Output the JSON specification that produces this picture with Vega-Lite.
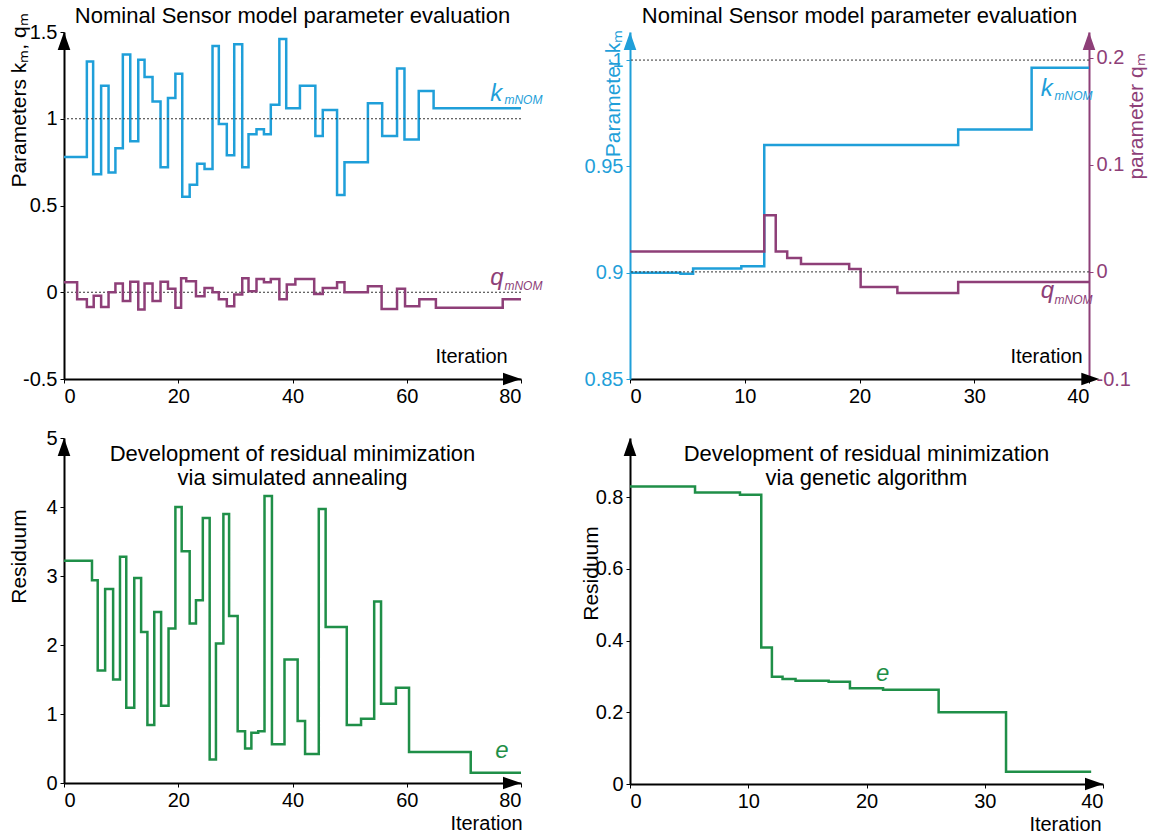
{
  "$schema": "https://vega.github.io/schema/vega-lite/v6.json",
  "padding": {"left": 7, "top": 4, "right": 5, "bottom": 5},
  "config": {
    "font": "Liberation Sans",
    "view": {"stroke": null},
    "axis": {"grid": false, "domainColor": "black", "domainWidth": 2, "tickColor": "black", "tickSize": 4, "labelFontSize": 20, "labelColor": "black", "labelFont": "Liberation Sans", "titleFont": "Liberation Sans", "titleFontSize": 21, "titleFontWeight": "normal", "titleColor": "black", "labelPadding": 3},
    "title": {"fontSize": 22, "fontWeight": "normal", "font": "Liberation Sans", "color": "black", "frame": "group"}
  },
  "datasets": {
    "kSA": [{"iter":0,"v":0.78},{"iter":4,"v":1.33},{"iter":5.1,"v":0.68},{"iter":6.5,"v":1.19},{"iter":7.8,"v":0.69},{"iter":9,"v":0.83},{"iter":10.3,"v":1.37},{"iter":11.6,"v":0.87},{"iter":13,"v":1.34},{"iter":14.1,"v":1.24},{"iter":15.5,"v":1.10},{"iter":16.9,"v":0.72},{"iter":18.2,"v":1.12},{"iter":19.5,"v":1.26},{"iter":20.7,"v":0.55},{"iter":22,"v":0.62},{"iter":23.3,"v":0.74},{"iter":24.6,"v":0.71},{"iter":26,"v":1.42},{"iter":27.1,"v":0.97},{"iter":28.5,"v":0.79},{"iter":29.8,"v":1.43},{"iter":31.2,"v":0.72},{"iter":32.3,"v":0.91},{"iter":33.7,"v":0.94},{"iter":35,"v":0.91},{"iter":36.2,"v":1.08},{"iter":37.7,"v":1.46},{"iter":38.9,"v":1.06},{"iter":41.3,"v":1.19},{"iter":44,"v":0.90},{"iter":45.3,"v":1.05},{"iter":47.8,"v":0.56},{"iter":49.1,"v":0.75},{"iter":53.2,"v":1.09},{"iter":55.7,"v":0.90},{"iter":58.3,"v":1.29},{"iter":59.6,"v":0.88},{"iter":62.1,"v":1.16},{"iter":64.7,"v":1.06},{"iter":80,"v":1.06}],
    "qSA": [{"iter":0,"v":0.057},{"iter":2.3,"v":-0.04},{"iter":4,"v":-0.085},{"iter":5.2,"v":-0.02},{"iter":6.5,"v":-0.085},{"iter":7.8,"v":0.0},{"iter":9,"v":0.05},{"iter":10.3,"v":-0.05},{"iter":11.6,"v":0.06},{"iter":13,"v":-0.1},{"iter":14.1,"v":0.05},{"iter":15.5,"v":-0.05},{"iter":16.9,"v":0.06},{"iter":18.2,"v":0.02},{"iter":19.5,"v":-0.09},{"iter":20.5,"v":0.08},{"iter":21.4,"v":0.063},{"iter":23.1,"v":-0.023},{"iter":24.6,"v":0.025},{"iter":26,"v":0.0},{"iter":27.1,"v":-0.04},{"iter":28.5,"v":-0.08},{"iter":29.8,"v":-0.013},{"iter":31.2,"v":0.08},{"iter":32.3,"v":0.006},{"iter":33.7,"v":0.077},{"iter":35,"v":0.057},{"iter":36.2,"v":0.077},{"iter":37.7,"v":-0.04},{"iter":39,"v":0.044},{"iter":40.5,"v":0.077},{"iter":43.8,"v":-0.01},{"iter":45.3,"v":0.025},{"iter":47.8,"v":0.057},{"iter":49.1,"v":0.0},{"iter":53.2,"v":0.034},{"iter":55.6,"v":-0.096},{"iter":58.3,"v":0.02},{"iter":59.7,"v":-0.08},{"iter":62.2,"v":-0.04},{"iter":65.1,"v":-0.09},{"iter":76.8,"v":-0.04},{"iter":80,"v":-0.04}],
    "kGA": [{"iter":0,"v":0.9},{"iter":4.4,"v":0.8995},{"iter":5.5,"v":0.902},{"iter":9.7,"v":0.903},{"iter":11.7,"v":0.96},{"iter":28.6,"v":0.9674},{"iter":35,"v":0.9964},{"iter":40,"v":0.9964}],
    "qGA": [{"iter":0,"v":0.019},{"iter":11.7,"v":0.053},{"iter":12.7,"v":0.019},{"iter":13.7,"v":0.013},{"iter":14.9,"v":0.0074},{"iter":19.1,"v":0.0026},{"iter":20.1,"v":-0.014},{"iter":23.3,"v":-0.0197},{"iter":28.6,"v":-0.0094},{"iter":40,"v":-0.0094}],
    "eSA": [{"iter":0,"v":3.22},{"iter":4.9,"v":2.94},{"iter":5.9,"v":1.63},{"iter":7.2,"v":2.81},{"iter":8.6,"v":1.50},{"iter":9.8,"v":3.28},{"iter":10.9,"v":1.09},{"iter":12.3,"v":2.97},{"iter":13.5,"v":2.19},{"iter":14.6,"v":0.84},{"iter":15.8,"v":2.48},{"iter":17.0,"v":1.12},{"iter":18.3,"v":2.24},{"iter":19.5,"v":4.0},{"iter":20.6,"v":3.36},{"iter":22.0,"v":2.31},{"iter":23.1,"v":2.65},{"iter":24.3,"v":3.84},{"iter":25.5,"v":0.34},{"iter":26.6,"v":2.02},{"iter":27.9,"v":3.90},{"iter":28.9,"v":2.42},{"iter":30.4,"v":0.75},{"iter":31.7,"v":0.50},{"iter":32.8,"v":0.73},{"iter":34.0,"v":0.75},{"iter":35.1,"v":4.16},{"iter":36.4,"v":0.56},{"iter":38.6,"v":1.79},{"iter":40.9,"v":0.90},{"iter":42.2,"v":0.42},{"iter":44.6,"v":3.97},{"iter":45.8,"v":2.26},{"iter":49.5,"v":0.84},{"iter":52.0,"v":0.93},{"iter":54.3,"v":2.63},{"iter":55.5,"v":1.15},{"iter":58.1,"v":1.38},{"iter":60.4,"v":0.45},{"iter":71.2,"v":0.15},{"iter":80,"v":0.15}],
    "eGA": [{"iter":0,"v":0.83},{"iter":5.5,"v":0.813},{"iter":9.3,"v":0.807},{"iter":11.1,"v":0.381},{"iter":12.0,"v":0.299},{"iter":12.9,"v":0.293},{"iter":14.0,"v":0.288},{"iter":16.8,"v":0.285},{"iter":18.6,"v":0.267},{"iter":21.4,"v":0.263},{"iter":26.1,"v":0.2},{"iter":31.8,"v":0.034},{"iter":39,"v":0.034}],
    "one": [{}]
  },
  "concat": [
    {
      "width": 457, "height": 347,
      "title": {"text": "Nominal Sensor model parameter evaluation", "offset": -15},
      "layer": [
        {"data": {"name": "kSA"}, "mark": {"type": "line", "interpolate": "step-after", "color": "#1f9fd9", "strokeWidth": 2.5},
         "encoding": {
           "x": {"field": "iter", "type": "quantitative", "scale": {"domain": [0, 80], "nice": false}, "axis": {"values": [0, 20, 40, 60, 80], "title": "Iteration", "titleX": 407, "titleY": -23, "titleBaseline": "middle", "titleFontSize": 20}},
           "y": {"field": "v", "type": "quantitative", "scale": {"domain": [-0.5, 1.5], "nice": false}, "axis": {"values": [-0.5, 0, 0.5, 1, 1.5], "labelExpr": "replace(format(datum.value, '~g'), '−', '-')", "title": "Parameters kₘ, qₘ", "titleFontSize": 21, "titleX": -45, "titleY": 68, "titleAngle": -90, "titleBaseline": "middle", "titleAlign": "center"}}}},
        {"data": {"values": [{"ref": 1}, {"ref": 0}]}, "mark": {"type": "rule", "strokeDash": [2, 2], "strokeWidth": 1, "color": "#333333"},
         "encoding": {"y": {"field": "ref", "type": "quantitative"}}},
        {"data": {"name": "qSA"}, "mark": {"type": "line", "interpolate": "step-after", "color": "#8e3f78", "strokeWidth": 2.5},
         "encoding": {"x": {"field": "iter", "type": "quantitative"}, "y": {"field": "v", "type": "quantitative"}}},
        {"data": {"name": "one"}, "mark": {"type": "point", "shape": "M0,0L-2,-0.7L-2,0.7Z", "filled": true, "size": 324, "color": "black", "opacity": 1},
         "encoding": {"x": {"datum": 80, "type": "quantitative"}, "y": {"datum": -0.5, "type": "quantitative"}}},
        {"data": {"name": "one"}, "mark": {"type": "point", "shape": "M0,0L-0.7,2L0.7,2Z", "filled": true, "size": 324, "color": "black", "opacity": 1},
         "encoding": {"x": {"datum": 0, "type": "quantitative"}, "y": {"datum": 1.5, "type": "quantitative"}}},
        {"data": {"name": "one"}, "mark": {"type": "text", "text": "k", "fontStyle": "italic", "fontSize": 24, "color": "#1f9fd9", "align": "left", "baseline": "alphabetic"},
         "encoding": {"x": {"datum": 74.6, "type": "quantitative"}, "y": {"datum": 1.103, "type": "quantitative"}}},
        {"data": {"name": "one"}, "mark": {"type": "text", "text": "mNOM", "fontStyle": "italic", "fontSize": 12, "color": "#1f9fd9", "align": "left", "baseline": "alphabetic"},
         "encoding": {"x": {"datum": 77.1, "type": "quantitative"}, "y": {"datum": 1.086, "type": "quantitative"}}},
        {"data": {"name": "one"}, "mark": {"type": "text", "text": "q", "fontStyle": "italic", "fontSize": 24, "color": "#8e3f78", "align": "left", "baseline": "alphabetic"},
         "encoding": {"x": {"datum": 74.6, "type": "quantitative"}, "y": {"datum": 0.04, "type": "quantitative"}}},
        {"data": {"name": "one"}, "mark": {"type": "text", "text": "mNOM", "fontStyle": "italic", "fontSize": 12, "color": "#8e3f78", "align": "left", "baseline": "alphabetic"},
         "encoding": {"x": {"datum": 77.1, "type": "quantitative"}, "y": {"datum": 0.011, "type": "quantitative"}}}
      ]
    },
    {
      "width": 459, "height": 347,
      "title": {"text": "Nominal Sensor model parameter evaluation", "offset": 1},
      "layer": [
        {"layer": [
          {"data": {"name": "kGA"}, "mark": {"type": "line", "interpolate": "step-after", "color": "#1f9fd9", "strokeWidth": 2.5},
           "encoding": {
             "x": {"field": "iter", "type": "quantitative", "scale": {"domain": [0, 40], "nice": false}, "axis": {"values": [0, 10, 20, 30, 40], "title": "Iteration", "titleX": 416, "titleY": -23, "titleBaseline": "middle", "titleFontSize": 20}},
             "y": {"field": "v", "type": "quantitative", "scale": {"domain": [0.85, 1.0132], "nice": false}, "axis": {"values": [0.85, 0.9, 0.95, 1], "format": "~g", "domainColor": "#1f9fd9", "tickColor": "#1f9fd9", "labelColor": "#1f9fd9", "title": "Parameter kₘ", "titleColor": "#1f9fd9", "titleX": -17, "titleY": 61, "titleAngle": -90, "titleBaseline": "middle", "titleAlign": "center"}}}},
          {"data": {"values": [{"ref": 1}]}, "mark": {"type": "rule", "strokeDash": [2, 2], "strokeWidth": 1, "color": "#333333"},
           "encoding": {"y": {"field": "ref", "type": "quantitative"}}},
          {"data": {"name": "one"}, "mark": {"type": "point", "shape": "M0,0L-0.7,2L0.7,2Z", "filled": true, "size": 324, "color": "#1f9fd9", "opacity": 1},
           "encoding": {"x": {"datum": 0, "type": "quantitative"}, "y": {"datum": 1.0132, "type": "quantitative"}}},
          {"data": {"name": "one"}, "mark": {"type": "point", "shape": "M0,0L-2,-0.7L-2,0.7Z", "filled": true, "size": 324, "color": "black", "opacity": 1},
           "encoding": {"x": {"datum": 40.9, "type": "quantitative"}, "y": {"datum": 0.85, "type": "quantitative"}}},
          {"data": {"name": "one"}, "mark": {"type": "text", "text": "k", "fontStyle": "italic", "fontSize": 24, "color": "#1f9fd9", "align": "left", "baseline": "alphabetic"},
           "encoding": {"x": {"datum": 35.8, "type": "quantitative"}, "y": {"datum": 0.9831, "type": "quantitative"}}},
          {"data": {"name": "one"}, "mark": {"type": "text", "text": "mNOM", "fontStyle": "italic", "fontSize": 12, "color": "#1f9fd9", "align": "left", "baseline": "alphabetic"},
           "encoding": {"x": {"datum": 37.0, "type": "quantitative"}, "y": {"datum": 0.9812, "type": "quantitative"}}}
        ]},
        {"layer": [
          {"data": {"name": "qGA"}, "mark": {"type": "line", "interpolate": "step-after", "color": "#8e3f78", "strokeWidth": 2.5},
           "encoding": {
             "x": {"field": "iter", "type": "quantitative"},
             "y": {"field": "v", "type": "quantitative", "scale": {"domain": [-0.1, 0.224], "nice": false}, "axis": {"orient": "right", "values": [-0.1, 0, 0.1, 0.2], "labelExpr": "replace(format(datum.value, '~g'), '−', '-')", "domainColor": "#8e3f78", "tickColor": "#8e3f78", "labelColor": "#8e3f78", "title": "parameter qₘ", "titleColor": "#8e3f78", "titleX": 47, "titleY": 84, "titleAngle": -90, "titleBaseline": "middle", "titleAlign": "center"}}}},
          {"data": {"values": [{"ref": 0}]}, "mark": {"type": "rule", "strokeDash": [2, 2], "strokeWidth": 1, "color": "#333333"},
           "encoding": {"y": {"field": "ref", "type": "quantitative"}}},
          {"data": {"name": "one"}, "mark": {"type": "point", "shape": "M0,0L-0.7,2L0.7,2Z", "filled": true, "size": 324, "color": "#8e3f78", "opacity": 1},
           "encoding": {"x": {"datum": 40, "type": "quantitative"}, "y": {"datum": 0.224, "type": "quantitative"}}},
          {"data": {"name": "one"}, "mark": {"type": "text", "text": "q", "fontStyle": "italic", "fontSize": 24, "color": "#8e3f78", "align": "left", "baseline": "alphabetic"},
           "encoding": {"x": {"datum": 35.8, "type": "quantitative"}, "y": {"datum": -0.0248, "type": "quantitative"}}},
          {"data": {"name": "one"}, "mark": {"type": "text", "text": "mNOM", "fontStyle": "italic", "fontSize": 12, "color": "#8e3f78", "align": "left", "baseline": "alphabetic"},
           "encoding": {"x": {"datum": 37.0, "type": "quantitative"}, "y": {"datum": -0.03, "type": "quantitative"}}}
        ]}
      ],
      "resolve": {"scale": {"y": "independent"}}
    },
    {
      "width": 457, "height": 345,
      "title": {"text": ["Development of residual minimization", "via simulated annealing"], "offset": -62},
      "layer": [
        {"data": {"name": "eSA"}, "mark": {"type": "line", "interpolate": "step-after", "color": "#1f8f48", "strokeWidth": 2.5},
         "encoding": {
           "x": {"field": "iter", "type": "quantitative", "scale": {"domain": [0, 80], "nice": false}, "axis": {"values": [0, 20, 40, 60, 80], "title": "Iteration", "titleX": 422, "titleY": 40, "titleBaseline": "middle", "titleFontSize": 20}},
           "y": {"field": "v", "type": "quantitative", "scale": {"domain": [0, 5], "nice": false}, "axis": {"values": [0, 1, 2, 3, 4, 5], "format": "~g", "title": "Residuum", "titleX": -45, "titleY": 118, "titleAngle": -90, "titleBaseline": "middle", "titleAlign": "center"}}}},
        {"data": {"name": "one"}, "mark": {"type": "point", "shape": "M0,0L-2,-0.7L-2,0.7Z", "filled": true, "size": 324, "color": "black", "opacity": 1},
         "encoding": {"x": {"datum": 80, "type": "quantitative"}, "y": {"datum": 0, "type": "quantitative"}}},
        {"data": {"name": "one"}, "mark": {"type": "point", "shape": "M0,0L-0.7,2L0.7,2Z", "filled": true, "size": 324, "color": "black", "opacity": 1},
         "encoding": {"x": {"datum": 0, "type": "quantitative"}, "y": {"datum": 5, "type": "quantitative"}}},
        {"data": {"name": "one"}, "mark": {"type": "text", "text": "e", "fontStyle": "italic", "fontSize": 24, "color": "#1f8f48", "align": "left", "baseline": "alphabetic"},
         "encoding": {"x": {"datum": 75.5, "type": "quantitative"}, "y": {"datum": 0.36, "type": "quantitative"}}}
      ]
    },
    {
      "width": 473, "height": 346,
      "title": {"text": ["Development of residual minimization", "via genetic algorithm"], "offset": -52},
      "layer": [
        {"data": {"name": "eGA"}, "mark": {"type": "line", "interpolate": "step-after", "color": "#1f8f48", "strokeWidth": 2.5},
         "encoding": {
           "x": {"field": "iter", "type": "quantitative", "scale": {"domain": [0, 40], "nice": false}, "axis": {"values": [0, 10, 20, 30, 40], "title": "Iteration", "titleX": 435, "titleY": 40, "titleBaseline": "middle", "titleFontSize": 20}},
           "y": {"field": "v", "type": "quantitative", "scale": {"domain": [0, 0.965], "nice": false}, "axis": {"values": [0, 0.2, 0.4, 0.6, 0.8], "format": "~g", "title": "Residuum", "titleX": -39, "titleY": 135, "titleAngle": -90, "titleBaseline": "middle", "titleAlign": "center"}}}},
        {"data": {"name": "one"}, "mark": {"type": "point", "shape": "M0,0L-2,-0.7L-2,0.7Z", "filled": true, "size": 324, "color": "black", "opacity": 1},
         "encoding": {"x": {"datum": 40, "type": "quantitative"}, "y": {"datum": 0, "type": "quantitative"}}},
        {"data": {"name": "one"}, "mark": {"type": "point", "shape": "M0,0L-0.7,2L0.7,2Z", "filled": true, "size": 324, "color": "black", "opacity": 1},
         "encoding": {"x": {"datum": 0, "type": "quantitative"}, "y": {"datum": 0.965, "type": "quantitative"}}},
        {"data": {"name": "one"}, "mark": {"type": "text", "text": "e", "fontStyle": "italic", "fontSize": 24, "color": "#1f8f48", "align": "left", "baseline": "alphabetic"},
         "encoding": {"x": {"datum": 20.8, "type": "quantitative"}, "y": {"datum": 0.288, "type": "quantitative"}}}
      ]
    }
  ],
  "columns": 2,
  "spacing": {"row": 59, "column": 109},
  "bounds": "flush"
}
